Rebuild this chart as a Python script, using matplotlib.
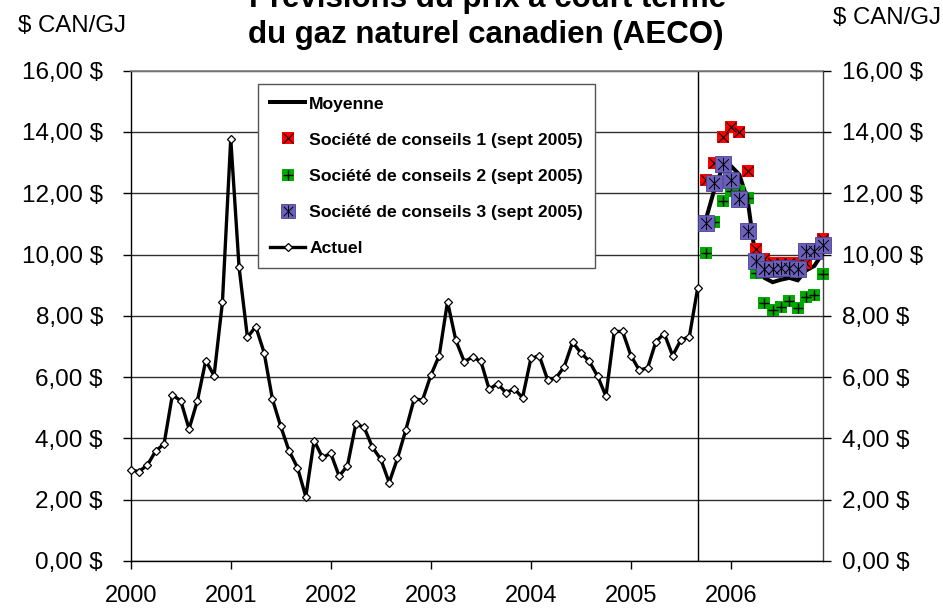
import matplotlib
matplotlib.use("Agg")
import matplotlib.pyplot as plt
from matplotlib.lines import Line2D
from matplotlib.path import Path

# ---------------- data ----------------
years = ["2000", "2001", "2002", "2003", "2004", "2005", "2006"]

# Actual monthly AECO price, Jan 2000 .. Sep 2005 ($ CAN/GJ)
actuel = [2.97, 2.92, 3.13, 3.59, 3.82, 5.42, 5.23, 4.31, 5.23, 6.54, 6.05, 8.44,
          13.78, 9.58, 7.30, 7.65, 6.80, 5.28, 4.39, 3.59, 3.05, 2.10, 3.93, 3.38,
          3.51, 2.77, 3.11, 4.47, 4.36, 3.71, 3.32, 2.56, 3.35, 4.28, 5.29, 5.25,
          6.06, 6.70, 8.46, 7.20, 6.51, 6.65, 6.52, 5.60, 5.79, 5.49, 5.62, 5.33,
          6.61, 6.70, 5.92, 5.97, 6.34, 7.14, 6.79, 6.52, 6.03, 5.38, 7.49, 7.49,
          6.70, 6.23, 6.30, 7.16, 7.42, 6.70, 7.22, 7.31, 8.90]

# Forecasts, Oct 2005 .. Dec 2006
conseil1 = [12.43, 12.98, 13.85, 14.15, 14.00, 12.73, 10.17, 9.85, 9.72, 9.73, 9.72, 9.72, 9.72, 10.10, 10.50]
conseil2 = [10.04, 11.05, 11.76, 12.08, 12.08, 11.84, 9.40, 8.41, 8.19, 8.30, 8.50, 8.25, 8.63, 8.68, 9.35]
conseil3 = [11.02, 12.33, 12.96, 12.43, 11.80, 10.77, 9.80, 9.53, 9.53, 9.55, 9.55, 9.52, 10.10, 10.10, 10.31]
moyenne  = [11.16, 12.12, 12.86, 12.89, 12.61, 11.78, 9.79, 9.24, 9.10, 9.18, 9.24, 9.16, 9.48, 9.63, 10.05]

y_ticks = [0, 2, 4, 6, 8, 10, 12, 14, 16]
y_tick_labels = ["0,00 $", "2,00 $", "4,00 $", "6,00 $", "8,00 $", "10,00 $",
                 "12,00 $", "14,00 $", "16,00 $"]

labels = ["Moyenne",
          "Société de conseils 1 (sept 2005)",
          "Société de conseils 2 (sept 2005)",
          "Société de conseils 3 (sept 2005)",
          "Actuel"]

# ---------------- plot ----------------
plt.rcParams["font.family"] = ["Liberation Sans", "DejaVu Sans"]

W, H = 943, 609
fig = plt.figure(figsize=(W / 100, H / 100), dpi=100)
ax = fig.add_axes([130.7 / W, 1 - 561 / H, (822.7 - 130.7) / W, (561 - 70.7) / H])

n_act = len(actuel)
x_act = list(range(n_act))
x_fc = list(range(n_act, n_act + len(moyenne)))
n_total = n_act + len(moyenne)

RED = "#ff0000"
GREEN = "#00aa00"
PURPLE = "#6a5fbb"

star = Path([(-1, -1), (1, 1), (-1, 1), (1, -1), (0, -1.25), (0, 1.25)],
            [Path.MOVETO, Path.LINETO, Path.MOVETO, Path.LINETO, Path.MOVETO, Path.LINETO])

# actual
ax.plot(x_act, actuel, color="black", lw=2.4, marker="D", ms=4.2,
        mfc="white", mec="black", mew=0.9, zorder=3, clip_on=False)
# moyenne
ax.plot(x_fc, moyenne, color="black", lw=2.9, zorder=3, solid_joinstyle="miter", clip_on=False)
# consultant 1
ax.plot(x_fc, conseil1, ls="none", marker="s", ms=8.3, mfc=RED, mec=RED, mew=0, zorder=4, clip_on=False)
ax.plot(x_fc, conseil1, ls="none", marker="x", ms=6.5, mec="black", mew=0.8, zorder=4, clip_on=False)
# consultant 2
ax.plot(x_fc, conseil2, ls="none", marker="s", ms=8.3, mfc=GREEN, mec=GREEN, mew=0, zorder=5, clip_on=False)
ax.plot(x_fc, conseil2, ls="none", marker="+", ms=7, mec="black", mew=1.0, zorder=5, clip_on=False)
# consultant 3
ax.plot(x_fc, conseil3, ls="none", marker="s", ms=11.4, mfc=PURPLE, mec="#4b4190", mew=0.6, zorder=6, clip_on=False)
ax.plot(x_fc, conseil3, ls="none", marker=star, ms=9.6, mfc="none", mec="black", mew=0.7, zorder=6, clip_on=False)

# separator at last actual month
ax.axvline(n_act - 1, color="black", lw=1.0, zorder=2)

ax.set_xlim(0, n_total - 1)
ax.set_ylim(0, 16)
ax.set_xticks([12 * i for i in range(len(years))])
ax.set_xticklabels(years)
ax.set_yticks(y_ticks)
ax.set_yticklabels(y_tick_labels)
ax.tick_params(axis="x", length=6, width=1, pad=11, labelsize=17, direction="out")
ax.tick_params(axis="y", length=6, width=1, pad=14, labelsize=17.5, direction="out")
ax.yaxis.grid(True, color="#303030", lw=1.0)
ax.set_axisbelow(True)
for s in ["left", "bottom"]:
    ax.spines[s].set_color("black")
    ax.spines[s].set_linewidth(1.0)
ax.spines["top"].set_color("#7f7f7f")
ax.spines["top"].set_linewidth(1.2)
ax.spines["right"].set_color("#404040")
ax.spines["right"].set_linewidth(1.0)

ax2 = ax.twinx()
ax2.set_ylim(0, 16)
ax2.set_yticks(y_ticks)
ax2.set_yticklabels(y_tick_labels)
ax2.tick_params(axis="y", length=6, width=1, pad=8, labelsize=17.5, direction="out")
for s in ax2.spines.values():
    s.set_visible(False)

# legend (proxy handles for appearance)
h_moy = Line2D([], [], color="black", lw=2.9)
h_r = (Line2D([], [], ls="none", marker="s", ms=8.5, mfc=RED, mec=RED, mew=0),
       Line2D([], [], ls="none", marker="x", ms=6.5, mec="black", mew=0.8))
h_g = (Line2D([], [], ls="none", marker="s", ms=8.5, mfc=GREEN, mec=GREEN, mew=0),
       Line2D([], [], ls="none", marker="+", ms=7, mec="black", mew=1.0))
h_p = (Line2D([], [], ls="none", marker="s", ms=10, mfc=PURPLE, mec="#4b4190", mew=0.6),
       Line2D([], [], ls="none", marker=star, ms=8.5, mfc="none", mec="black", mew=0.7))
h_act = Line2D([], [], color="black", lw=2.4, marker="D", ms=4.2, mfc="white", mec="black", mew=0.9)

leg = ax.legend([h_moy, h_r, h_g, h_p, h_act], labels,
                loc="upper left", bbox_to_anchor=(258 / W, 1 - 84 / H),
                bbox_transform=fig.transFigure, borderaxespad=0,
                prop={"family": ["Liberation Sans", "DejaVu Sans"], "weight": "bold", "size": 12.6},
                frameon=True, fancybox=False, shadow=False, framealpha=1,
                edgecolor="#555555", borderpad=0.7, labelspacing=1.19,
                handlelength=2.0, handletextpad=0.22)
leg.get_frame().set_linewidth(1.0)
leg.set_zorder(10)

# titles and unit labels
fig.text(488 / W, 1 - 7 / H, "Prévisions du prix à court terme", ha="center",
         va="baseline", fontsize=22.5, fontweight="bold")
fig.text(486 / W, 1 - 43 / H, "du gaz naturel canadien (AECO)", ha="center",
         va="baseline", fontsize=22.5, fontweight="bold")
fig.text(18 / W, 1 - 32 / H, "$ CAN/GJ", ha="left", va="baseline", fontsize=17.3)
fig.text(833 / W, 1 - 24 / H, "$ CAN/GJ", ha="left", va="baseline", fontsize=17.3)

fig.savefig("out.png", dpi=100, facecolor="white")
